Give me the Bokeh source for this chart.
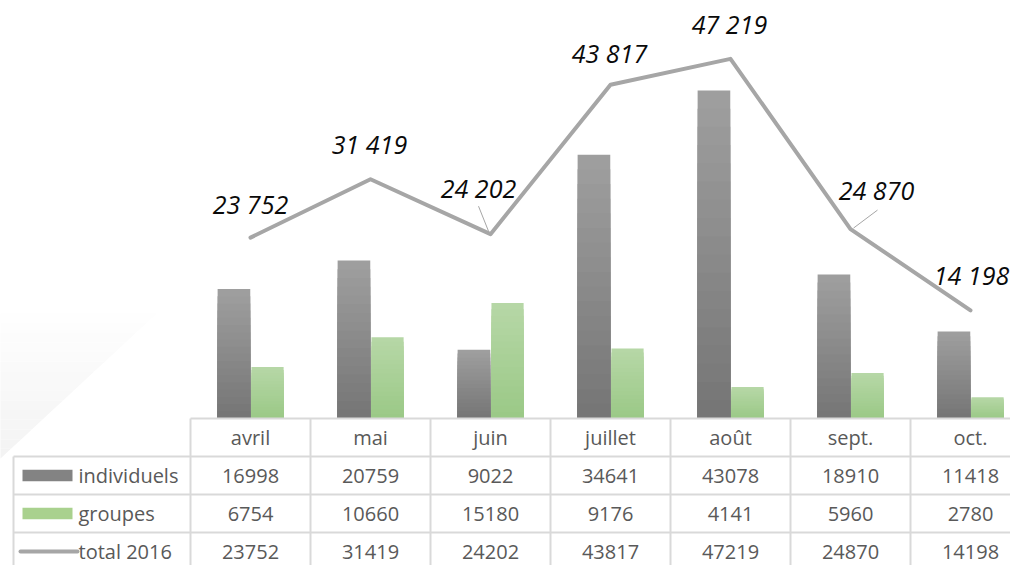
import numpy as np
from bokeh.plotting import figure
from bokeh.models import Range1d
from bokeh.core.properties import value
from bokeh.embed import file_html
from bokeh.resources import INLINE

# ---------------- data ----------------
mois = ["avril", "mai", "juin", "juillet", "août", "sept.", "oct."]
individuels = [16998, 20759, 9022, 34641, 43078, 18910, 11418]
groupes = [6754, 10660, 15180, 9176, 4141, 5960, 2780]
total = [23752, 31419, 24202, 43817, 47219, 24870, 14198]
series = ["individuels", "groupes", "total 2016"]

# ---------------- geometry / style ----------------
W, H = 1010, 565
OFF = 0              # figure is drawn at the page origin
X0 = 250             # page px of first category centre
CAT = 120            # px per category
Y0 = 418             # page px of value 0 / table top
VPP = 131.3          # value units per px
ROW = 38             # table row height px

def xd(px):
    return (px - X0) / CAT

def yd(py):
    return (Y0 - py) * VPP

def yt(py):
    return (Y0 - py) / ROW

def mix(c1, c2, t):
    a = [int(c1[i:i + 2], 16) for i in (1, 3, 5)]
    b = [int(c2[i:i + 2], 16) for i in (1, 3, 5)]
    return "#%02x%02x%02x" % tuple(int(round(u + (v - u) * t)) for u, v in zip(a, b))

FONT = value("Open Sans")
TXT = "#595959"
GRID = "#d9d9d9"
IND_TOP, IND_BOT = "#9e9e9e", "#767676"
GRP_TOP, GRP_BOT = "#b6d7a6", "#9bc987"
C_TOT = "#a6a6a6"

p = figure(width=W, height=H, output_backend="svg", toolbar_location=None,
           x_range=Range1d(xd(OFF), xd(OFF + W)),
           y_range=Range1d(yd(OFF + H), yd(OFF)),
           x_axis_location=None, y_axis_location=None,
           min_border=0, outline_line_color=None,
           background_fill_color="white", border_fill_color="white")
p.extra_y_ranges = {"table": Range1d(yt(OFF + H), yt(OFF))}
p.grid.visible = False

# ---------------- faint background triangle (gradient bands) ----------------
nb = 16
edges = np.linspace(303, 458, nb + 1)
bx, by, bc = [], [], []
for k in range(nb):
    yt_, yb_ = edges[k], edges[k + 1]
    xt_ = 167 * (458 - yt_) / 155
    xb_ = 167 * (458 - yb_) / 155
    bx.append([xd(-2), xd(xt_), xd(xb_), xd(-2)])
    by.append([yd(yt_), yd(yt_), yd(yb_), yd(yb_)])
    g = int(round(255 - 12 * (k + 0.5) / nb))
    bc.append("#%02x%02x%02x" % (g, g, g))
p.patches(bx, by, fill_color=bc, line_color=None)

# ---------------- bars (vertical gradient: layered, lighter on top) ----------------
n = len(mois)
x = np.arange(n)
ind = np.array(individuels, dtype=float)
grp = np.array(groupes, dtype=float)
K = 18
for k in range(K):
    frac = 1 - k / K
    t = k / (K - 1)
    p.vbar(x=x - 0.138, top=ind * frac, width=0.272,
           fill_color=mix(IND_TOP, IND_BOT, t), line_color=None)
    p.vbar(x=x + 0.142, top=grp * frac, width=0.268,
           fill_color=mix(GRP_TOP, GRP_BOT, t), line_color=None)

# ---------------- total line ----------------
p.line(x, total, line_color=C_TOT, line_width=4, line_join="round", line_cap="round")

# data labels (offsets in px relative to the point)
lab_dx = [0, -1, -12, -1, -1, 26, 1]
lab_dy = [-34, -35, -46, -32, -35, -39, -35]
lab_x = [i + dx / CAT for i, dx in enumerate(lab_dx)]
lab_y = [t - dy * VPP for t, dy in zip(total, lab_dy)]
lab_txt = [f"{t:,}".replace(",", " ") for t in total]
p.text(lab_x, lab_y, text=lab_txt, text_font=FONT, text_font_style="italic",
       text_font_size="25px", text_color="#0a0a0a", text_align="center",
       text_baseline="middle")

# leader lines (juin, sept.)
leaders = {2: ((-12, -28), (-2, -3)), 5: ((27, -19), (3, -1))}
lx0, ly0, lx1, ly1 = [], [], [], []
for i, ((ax, ay), (bx_, by_)) in leaders.items():
    lx0.append(i + ax / CAT); ly0.append(total[i] - ay * VPP)
    lx1.append(i + bx_ / CAT); ly1.append(total[i] - by_ * VPP)
p.segment(lx0, ly0, lx1, ly1, line_color="#a6a6a6", line_width=1)

# ---------------- data table ----------------
left = xd(13)
right = xd(OFF + W) + 1
vx = np.arange(n + 1) - 0.5
p.segment(x0=vx, y0=[0] * len(vx), x1=vx, y1=[-5] * len(vx),
          y_range_name="table", line_color=GRID, line_width=2)
p.segment(x0=[left], y0=[-1], x1=[left], y1=[-5],
          y_range_name="table", line_color=GRID, line_width=2)
p.segment(x0=[-0.5, left, left, left], y0=[0, -1, -2, -3],
          x1=[right] * 4, y1=[0, -1, -2, -3],
          y_range_name="table", line_color=GRID, line_width=2)

tstyle = dict(text_font=FONT, text_font_size="20px", text_color=TXT,
              text_baseline="middle", y_range_name="table")
p.text(x, [-0.5] * n, text=mois, text_align="center", **tstyle)
for r, vals in enumerate([individuels, groupes, total]):
    p.text(x, [-1.5 - r] * n, text=[str(v) for v in vals], text_align="center", **tstyle)

# legend keys
p.quad(left=[xd(22)] * 2, right=[xd(72)] * 2, top=[-1.5 + 0.15, -2.5 + 0.15],
       bottom=[-1.5 - 0.15, -2.5 - 0.15], fill_color=["#838383", "#a9d18e"],
       line_color=None, y_range_name="table")
p.segment(x0=[xd(20)], y0=[-3.5], x1=[xd(77)], y1=[-3.5], line_color=C_TOT,
          line_width=4, line_cap="round", y_range_name="table")
p.text([xd(78)] * 3, [-1.5, -2.5, -3.5], text=series, text_align="left", **tstyle)

open("out.html", "w").write(file_html(p, INLINE))
